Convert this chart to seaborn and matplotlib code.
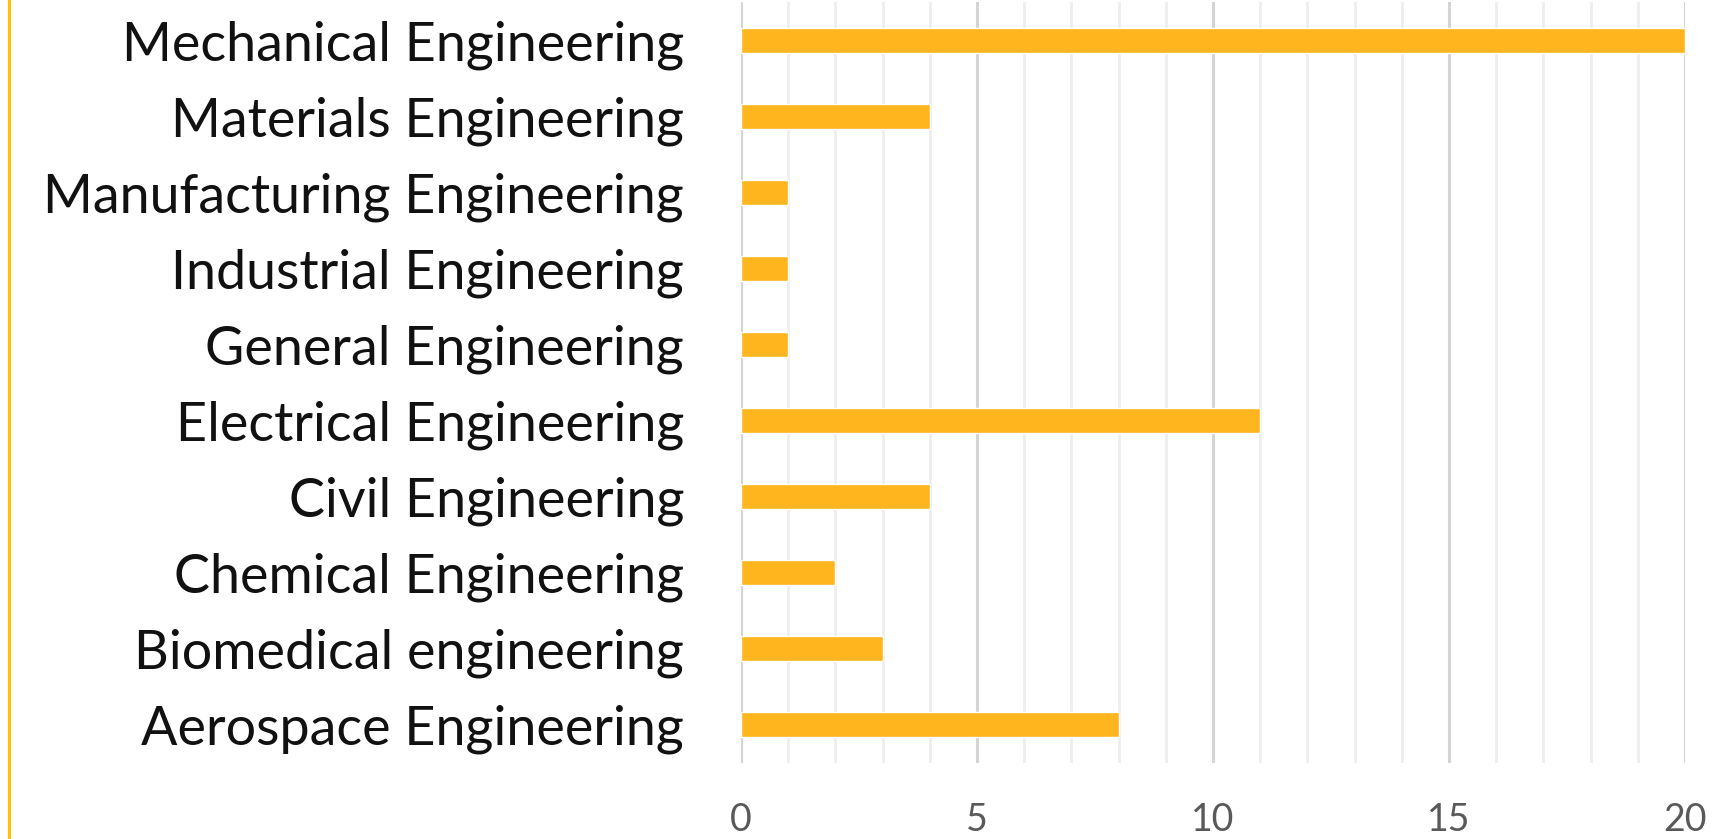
import seaborn as sns
import matplotlib.pyplot as plt
import pandas as pd
from matplotlib.lines import Line2D
from matplotlib.ticker import MultipleLocator

# categories listed top to bottom as in the chart
majors = ['Mechanical Engineering', 'Materials Engineering', 'Manufacturing Engineering',
          'Industrial Engineering', 'General Engineering', 'Electrical Engineering',
          'Civil Engineering', 'Chemical Engineering', 'Biomedical engineering',
          'Aerospace Engineering']
counts = [20, 4, 1, 1, 1, 11, 4, 2, 3, 8]
xticks = [0, 5, 10, 15, 20]

df = pd.DataFrame({'major': majors, 'count': counts})

sns.set_style('white')
plt.rcParams['font.family'] = ['Lato', 'DejaVu Sans']

fig = plt.figure(figsize=(17.16, 8.39), dpi=100)
ax = fig.add_axes([0.4318, 0.0906, 0.5502, 0.907])

sns.barplot(data=df, x='count', y='major', order=majors, orient='h',
            color='#FFB51E', saturation=1, width=0.33, ax=ax, zorder=3)

ax.set_xlim(0, 20)
ax.set_ylim(len(majors) - 0.5, -0.5)
ax.xaxis.set_major_locator(MultipleLocator(5))
ax.xaxis.set_minor_locator(MultipleLocator(1))
ax.grid(which='minor', axis='x', color='#EEEEEE', lw=2, zorder=0)
ax.grid(which='major', axis='x', color='#D4D4D4', lw=2.2, zorder=1)
ax.set_axisbelow(True)
for s in ax.spines.values():
    s.set_visible(False)
ax.set_xlabel('')
ax.set_ylabel('')
ax.tick_params(axis='y', length=0, pad=41, labelsize=38.8, labelcolor='#111111')
ax.tick_params(axis='x', which='both', length=0, pad=28, labelsize=27, labelcolor='#595959')
ax.set_xticks(xticks)

# thin orange rule at the left edge
fig.add_artist(Line2D([0.0052, 0.0052], [0, 1], color='#FFC000', lw=2.2))

plt.savefig('out.png', dpi=100)
